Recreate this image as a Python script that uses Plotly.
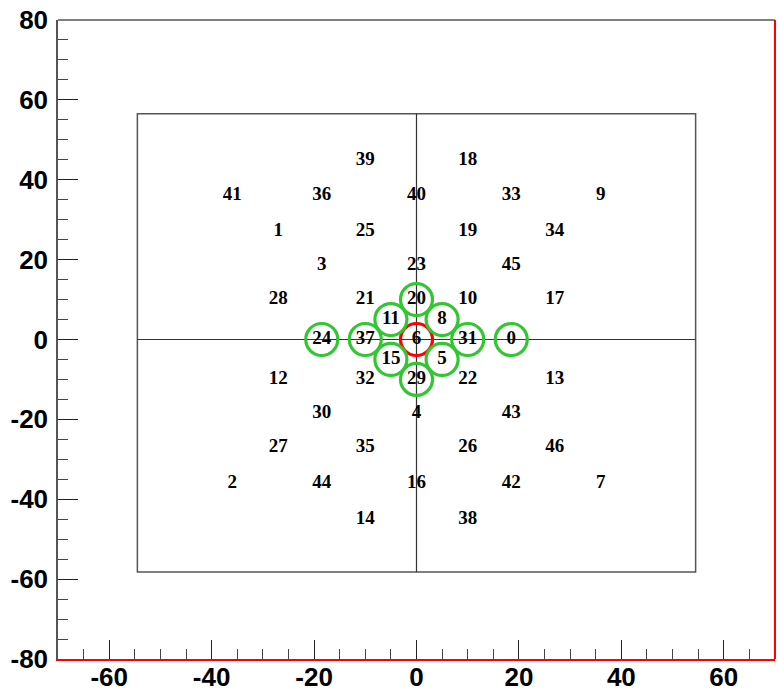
import plotly.graph_objects as go

# Channel numbers and their (x, y) positions on the detector face
channels = [39, 18,
            41, 36, 40, 33, 9,
            1, 25, 19, 34,
            3, 23, 45,
            28, 21, 20, 10, 17,
            11, 8,
            24, 37, 6, 31, 0,
            15, 5,
            12, 32, 29, 22, 13,
            30, 4, 43,
            27, 35, 26, 46,
            2, 44, 16, 42, 7,
            14, 38]
x_pos = [-10, 10,
         -36, -18.5, 0, 18.5, 36,
         -27, -10, 10, 27,
         -18.5, 0, 18.5,
         -27, -10, 0, 10, 27,
         -5, 5,
         -18.5, -10, 0, 10, 18.5,
         -5, 5,
         -27, -10, 0, 10, 27,
         -18.5, 0, 18.5,
         -27, -10, 10, 27,
         -36, -18.5, 0, 18.5, 36,
         -10, 10]
y_pos = [45, 45,
         36, 36, 36, 36, 36,
         27, 27, 27, 27,
         18.5, 18.5, 18.5,
         10, 10, 10, 10, 10,
         5, 5,
         0, 0, 0, 0, 0,
         -5, -5,
         -10, -10, -10, -10, -10,
         -18.5, -18.5, -18.5,
         -27, -27, -27, -27,
         -36, -36, -36, -36, -36,
         -45, -45]

# Highlighted channels
hit_channels = [20, 11, 8, 24, 37, 31, 0, 15, 5, 29]
seed_channel = [6]

# Outline of the active area and the crosshair
box_x = [-54.5, 54.5]
box_y = [-58.2, 56.5]

# Axes
x_range = [-70, 70]
y_range = [-80, 80]
x_tickvals = [-60, -40, -20, 0, 20, 40, 60]
x_ticktext = ["-60", "-40", "-20", "0", "20", "40", "60"]
y_tickvals = [-80, -60, -40, -20, 0, 20, 40, 60, 80]
y_ticktext = ["-80", "-60", "-40", "-20", "0", "20", "40", "60", "80"]

pos = {c: (x, y) for c, x, y in zip(channels, x_pos, y_pos)}

fig = go.Figure()

# red ring for the seed channel (drawn first, green rings overlay it)
fig.add_trace(go.Scatter(
    x=[pos[c][0] for c in seed_channel],
    y=[pos[c][1] for c in seed_channel],
    mode="markers",
    marker=dict(symbol="circle-open", size=32, color="#ff0000",
                line=dict(width=3.2, color="#ff0000")),
    hoverinfo="skip", showlegend=False))

fig.add_trace(go.Scatter(
    x=[pos[c][0] for c in hit_channels],
    y=[pos[c][1] for c in hit_channels],
    mode="markers",
    marker=dict(symbol="circle-open", size=32, color="#33c633",
                line=dict(width=3.2, color="#33c633")),
    hoverinfo="skip", showlegend=False))

# channel number labels
fig.add_trace(go.Scatter(
    x=x_pos, y=y_pos, text=[str(c) for c in channels],
    mode="text", textposition="middle center",
    textfont=dict(family="Liberation Serif", size=19, color="black", weight="bold"),
    hoverinfo="skip", showlegend=False))

# active-area box
fig.add_shape(type="rect", x0=box_x[0], x1=box_x[1], y0=box_y[0], y1=box_y[1],
              line=dict(color="#555555", width=1.5), layer="below")
# crosshair through the origin
fig.add_shape(type="line", x0=0, x1=0, y0=box_y[0], y1=box_y[1],
              line=dict(color="#333333", width=1.2), layer="below")
fig.add_shape(type="line", x0=box_x[0], x1=box_x[1], y0=0, y1=0,
              line=dict(color="#333333", width=1.2), layer="below")

# frame: grey top, red right
fig.add_shape(type="line", xref="paper", yref="paper", x0=0, x1=1, y0=1, y1=1,
              line=dict(color="#555555", width=1.5))
fig.add_shape(type="line", xref="paper", yref="paper", x0=1, x1=1, y0=0, y1=1,
              line=dict(color="#ff0000", width=2))

tickfont = dict(family="Liberation Sans", size=26, color="black", weight="bold")

fig.update_xaxes(range=x_range, tickmode="array", tickvals=x_tickvals, ticktext=x_ticktext,
                 ticks="inside", ticklen=19,
                 tickwidth=1.3, tickcolor="#222222", showgrid=False, zeroline=False,
                 showline=True, linecolor="#ff0000", linewidth=2, automargin=False,
                 tickfont=tickfont, ticklabelstandoff=-6,
                 minor=dict(dtick=5, tick0=0, ticks="inside", ticklen=10, tickwidth=1.3,
                            tickcolor="#444444", showgrid=False))
fig.update_yaxes(range=y_range, tickmode="array", tickvals=y_tickvals, ticktext=y_ticktext,
                 ticks="inside", ticklen=20,
                 tickwidth=1.3, tickcolor="#222222", showgrid=False, zeroline=False,
                 showline=True, linecolor="#555555", linewidth=1.5, automargin=False,
                 tickfont=tickfont, ticklabelstandoff=3,
                 minor=dict(dtick=5, tick0=0, ticks="inside", ticklen=10, tickwidth=1.3,
                            tickcolor="#444444", showgrid=False))

fig.update_layout(width=779, height=693,
                  margin=dict(l=58, r=4, t=20, b=34),
                  paper_bgcolor="white", plot_bgcolor="white")

fig.write_html("out.html")
